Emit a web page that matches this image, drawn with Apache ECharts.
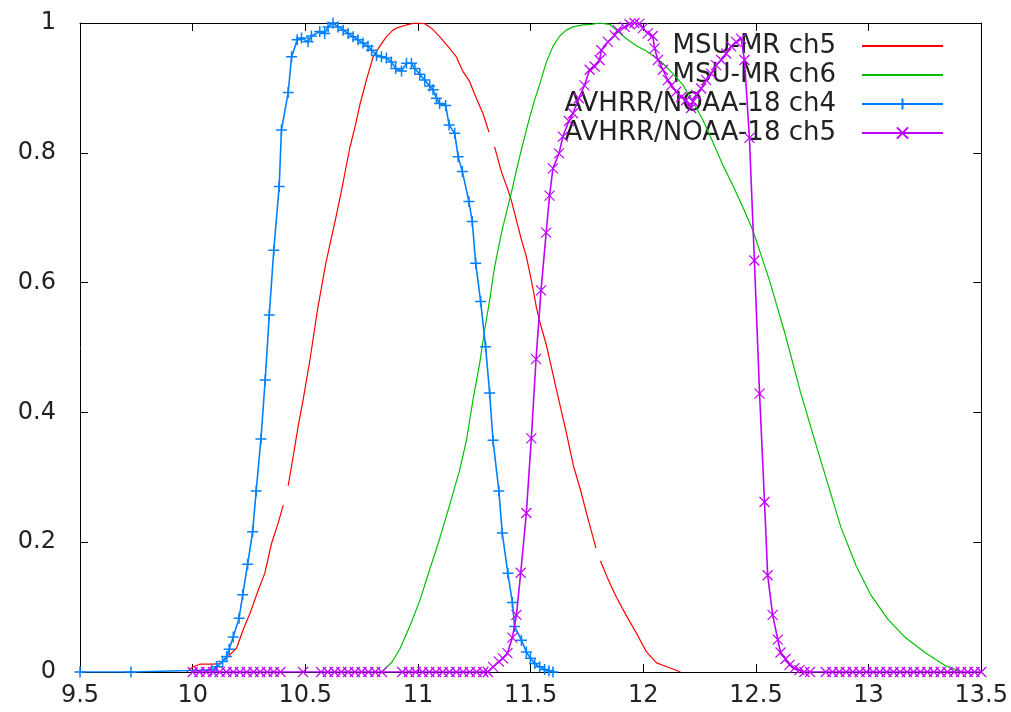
<!DOCTYPE html>
<html>
<head>
<meta charset="utf-8">
<script src="https://cdn.jsdelivr.net/npm/echarts@6/dist/echarts.min.js"></script>
<style>
html,body{margin:0;padding:0;background:#fff;}
#chart{width:1011px;height:712px;}
</style>
</head>
<body>
<div id="chart"></div>
<script>
const seriesNames = ['MSU-MR ch5', 'MSU-MR ch6', 'AVHRR/NOAA-18 ch4', 'AVHRR/NOAA-18 ch5'];
const xTicks = [9.5, 13.5, 0.5];
const yTicks = [0, 1, 0.2];

const msuCh5 = [
[9.973,0],[10.002,0.008],[10.032,0.012],[10.091,0.012],[10.121,0.013],[10.158,0.024],[10.195,0.037],[10.224,0.065],[10.254,0.090],[10.291,0.126],[10.320,0.152],[10.350,0.198],[10.379,0.229],[10.402,0.257],[10.413,'-'],[10.424,0.287],[10.446,0.332],[10.468,0.378],[10.490,0.419],[10.520,0.48],[10.555,0.56],[10.591,0.63],[10.638,0.704],[10.668,0.755],[10.697,0.807],[10.724,0.845],[10.742,0.874],[10.771,0.912],[10.801,0.948],[10.830,0.964],[10.860,0.979],[10.889,0.989],[10.904,0.992],[10.949,0.997],[10.986,1.0],[11.030,0.999],[11.060,0.992],[11.096,0.979],[11.133,0.964],[11.170,0.948],[11.200,0.925],[11.229,0.910],[11.259,0.884],[11.288,0.861],[11.315,0.832],[11.328,'-'],[11.340,0.809],[11.370,0.771],[11.399,0.743],[11.414,0.727],[11.437,0.696],[11.459,0.666],[11.481,0.640],[11.503,0.604],[11.525,0.563],[11.540,0.540],[11.569,0.505],[11.599,0.459],[11.629,0.413],[11.659,0.368],[11.689,0.319],[11.720,0.282],[11.750,0.242],[11.790,0.191],[11.800,'-'],[11.810,0.171],[11.841,0.145],[11.878,0.117],[11.923,0.088],[11.969,0.060],[12.014,0.031],[12.059,0.014],[12.104,0.008],[12.165,0]
];

const msuCh6 = [
[10.839,0],[10.884,0.015],[10.919,0.035],[10.963,0.07],[11.008,0.11],[11.052,0.158],[11.096,0.205],[11.141,0.258],[11.185,0.311],[11.215,0.357],[11.244,0.419],[11.274,0.476],[11.296,0.527],[11.318,0.573],[11.340,0.624],[11.370,0.676],[11.399,0.717],[11.414,0.738],[11.437,0.773],[11.459,0.805],[11.481,0.835],[11.496,0.855],[11.518,0.882],[11.540,0.905],[11.570,0.940],[11.599,0.964],[11.629,0.980],[11.658,0.989],[11.688,0.994],[11.732,0.997],[11.769,0.998],[11.806,1.0],[11.850,0.998],[11.880,0.989],[11.924,0.976],[11.969,0.965],[12.013,0.957],[12.050,0.948],[12.087,0.938],[12.131,0.922],[12.175,0.905],[12.220,0.879],[12.264,0.851],[12.308,0.817],[12.353,0.781],[12.397,0.750],[12.441,0.717],[12.488,0.679],[12.563,0.600],[12.630,0.520],[12.697,0.432],[12.765,0.352],[12.824,0.284],[12.876,0.224],[12.944,0.164],[13.011,0.118],[13.086,0.081],[13.160,0.054],[13.250,0.030],[13.339,0.010],[13.384,0.004],[13.411,0]
];

const avhrrCh4 = [
[9.5,0],[9.726,0],[10.084,0.003],[10.106,0.008],[10.133,0.016],[10.151,0.024],[10.162,0.035],[10.180,0.054],[10.206,0.083],[10.222,0.119],[10.244,0.166],[10.266,0.216],[10.282,0.279],[10.303,0.359],[10.322,0.45],[10.340,0.55],[10.360,0.65],[10.384,0.748],[10.394,0.835],[10.424,0.893],[10.439,0.948],[10.464,0.974],[10.483,0.977],[10.512,0.971],[10.527,0.98],[10.564,0.987],[10.586,0.984],[10.601,0.994],[10.623,1.0],[10.645,0.994],[10.668,0.989],[10.690,0.984],[10.712,0.979],[10.734,0.974],[10.756,0.969],[10.778,0.964],[10.794,0.958],[10.816,0.950],[10.838,0.948],[10.860,0.946],[10.882,0.940],[10.901,0.930],[10.927,0.926],[10.949,0.938],[10.971,0.938],[10.986,0.930],[11.008,0.921],[11.030,0.912],[11.052,0.903],[11.067,0.897],[11.082,0.884],[11.096,0.876],[11.123,0.873],[11.138,0.843],[11.163,0.830],[11.178,0.794],[11.197,0.771],[11.226,0.725],[11.241,0.694],[11.256,0.630],[11.278,0.571],[11.300,0.501],[11.318,0.430],[11.333,0.357],[11.359,0.279],[11.374,0.214],[11.399,0.152],[11.419,0.107],[11.429,0.070],[11.459,0.049],[11.481,0.031],[11.499,0.021],[11.518,0.013],[11.540,0.008],[11.562,0.004],[11.581,0.002],[11.599,0]
];

const avhrrCh5 = [
[10.00,0],[10.03,0],[10.06,0],[10.09,0],[10.12,0],[10.15,0],[10.18,0],[10.21,0],[10.24,0],[10.27,0],[10.30,0],[10.33,0],[10.36,0],[10.39,0],[10.49,0],[10.57,0],[10.60,0],[10.63,0],[10.66,0],[10.69,0],[10.72,0],[10.75,0],[10.78,0],[10.81,0],[10.84,0],[10.93,0],[10.96,0],[10.99,0],[11.02,0],[11.05,0],[11.08,0],[11.11,0],[11.14,0],[11.17,0],[11.20,0],[11.23,0],[11.26,0],[11.29,0],[11.31,0],
[11.333,0.008],[11.359,0.016],[11.377,0.021],[11.397,0.029],[11.419,0.053],[11.437,0.088],[11.456,0.153],[11.481,0.245],[11.503,0.360],[11.524,0.482],[11.546,0.588],[11.569,0.677],[11.584,0.734],[11.599,0.776],[11.626,0.799],[11.643,0.825],[11.670,0.849],[11.688,0.861],[11.714,0.884],[11.739,0.904],[11.762,0.928],[11.784,0.933],[11.806,0.943],[11.814,0.958],[11.843,0.971],[11.873,0.981],[11.887,0.989],[11.917,0.994],[11.939,0.998],[11.961,1.0],[11.983,0.999],[11.998,0.992],[12.020,0.984],[12.042,0.980],[12.050,0.961],[12.065,0.943],[12.087,0.928],[12.109,0.912],[12.124,0.904],[12.146,0.894],[12.168,0.886],[12.190,0.881],[12.212,0.869],[12.220,0.879],[12.235,0.889],[12.257,0.899],[12.279,0.912],[12.301,0.922],[12.323,0.935],[12.346,0.943],[12.368,0.953],[12.390,0.964],[12.412,0.971],[12.434,0.976],[12.449,0.943],[12.471,0.823],[12.493,0.634],[12.516,0.429],[12.538,0.262],[12.552,0.149],[12.574,0.088],[12.597,0.050],[12.609,0.030],[12.631,0.020],[12.649,0.011],[12.671,0.006],[12.693,0.003],[12.715,0],
[12.74,0],[12.81,0],[12.84,0],[12.87,0],[12.90,0],[12.93,0],[12.96,0],[12.99,0],[13.02,0],[13.05,0],[13.08,0],[13.11,0],[13.14,0],[13.17,0],[13.20,0],[13.23,0],[13.26,0],[13.29,0],[13.32,0],[13.35,0],[13.38,0],[13.41,0],[13.44,0],[13.47,0],[13.50,0]
];

const colors = ['#ff0000', '#00c000', '#0080ff', '#c000ff'];
const plusPath = 'path://M5,0L5,10M0,5L10,5';
const crossPath = 'path://M0,0L10,10M10,0L0,10';
const FONT = 'DejaVu Sans';

const chart = echarts.init(document.getElementById('chart'), null, {renderer: 'canvas'});

const axisCommon = {
  splitLine: {show: false},
  axisLine: {show: true, onZero: false, lineStyle: {color: '#000', width: 1}},
  axisTick: {show: true, inside: true, length: 8, lineStyle: {color: '#000', width: 1}}
};

chart.setOption({
  animation: false,
  backgroundColor: '#fff',
  color: colors,
  grid: {left: 80, right: 29, top: 23, bottom: 40},
  legend: {
    show: true,
    z: 1,
    orient: 'vertical',
    right: 62,
    top: 28,
    align: 'right',
    itemWidth: 81,
    itemHeight: 14,
    itemGap: 3,
    data: [
      {name: seriesNames[0], itemStyle: {opacity: 0}},
      {name: seriesNames[1], itemStyle: {opacity: 0}},
      {name: seriesNames[2]},
      {name: seriesNames[3]}
    ],
    textStyle: {fontFamily: FONT, fontSize: 26, color: '#222', padding: [0, 21, 0, 0]}
  },
  xAxis: [
    Object.assign({}, axisCommon, {
      type: 'value', position: 'bottom', min: xTicks[0], max: xTicks[1], interval: xTicks[2],
      axisLabel: {show: true, margin: 12, fontFamily: FONT, fontSize: 24, color: '#222', showMinLabel: true, showMaxLabel: true}
    }),
    Object.assign({}, axisCommon, {
      type: 'value', position: 'top', min: xTicks[0], max: xTicks[1], interval: xTicks[2],
      axisLabel: {show: false}
    })
  ],
  yAxis: [
    Object.assign({}, axisCommon, {
      type: 'value', position: 'left', min: yTicks[0], max: yTicks[1], interval: yTicks[2],
      axisLabel: {show: true, margin: 24, fontFamily: FONT, fontSize: 24, color: '#222', showMinLabel: true, showMaxLabel: true}
    }),
    Object.assign({}, axisCommon, {
      type: 'value', position: 'right', min: yTicks[0], max: yTicks[1], interval: yTicks[2],
      axisLabel: {show: false}
    })
  ],
  series: [
    {
      name: seriesNames[0], type: 'line', data: msuCh5, xAxisIndex: 0, yAxisIndex: 0,
      symbol: 'none', showSymbol: false, connectNulls: false,
      lineStyle: {color: colors[0], width: 1.2}, itemStyle: {color: colors[0]}, z: 2
    },
    {
      name: seriesNames[1], type: 'line', data: msuCh6, xAxisIndex: 0, yAxisIndex: 0,
      symbol: 'none', showSymbol: false,
      lineStyle: {color: colors[1], width: 1.2}, itemStyle: {color: colors[1]}, z: 2
    },
    {
      name: seriesNames[2], type: 'line', data: avhrrCh4, xAxisIndex: 0, yAxisIndex: 0,
      symbol: plusPath, symbolSize: 11, showSymbol: true, showAllSymbol: true,
      lineStyle: {color: colors[2], width: 1.6},
      itemStyle: {color: colors[2], borderColor: colors[2], borderWidth: 1.5}, z: 3
    },
    {
      name: seriesNames[3], type: 'line', data: avhrrCh5, xAxisIndex: 0, yAxisIndex: 0,
      symbol: crossPath, symbolSize: 10, showSymbol: true, showAllSymbol: true,
      lineStyle: {color: colors[3], width: 1.6},
      itemStyle: {color: colors[3], borderColor: colors[3], borderWidth: 1.2}, z: 4
    }
  ]
});
</script>
</body>
</html>
